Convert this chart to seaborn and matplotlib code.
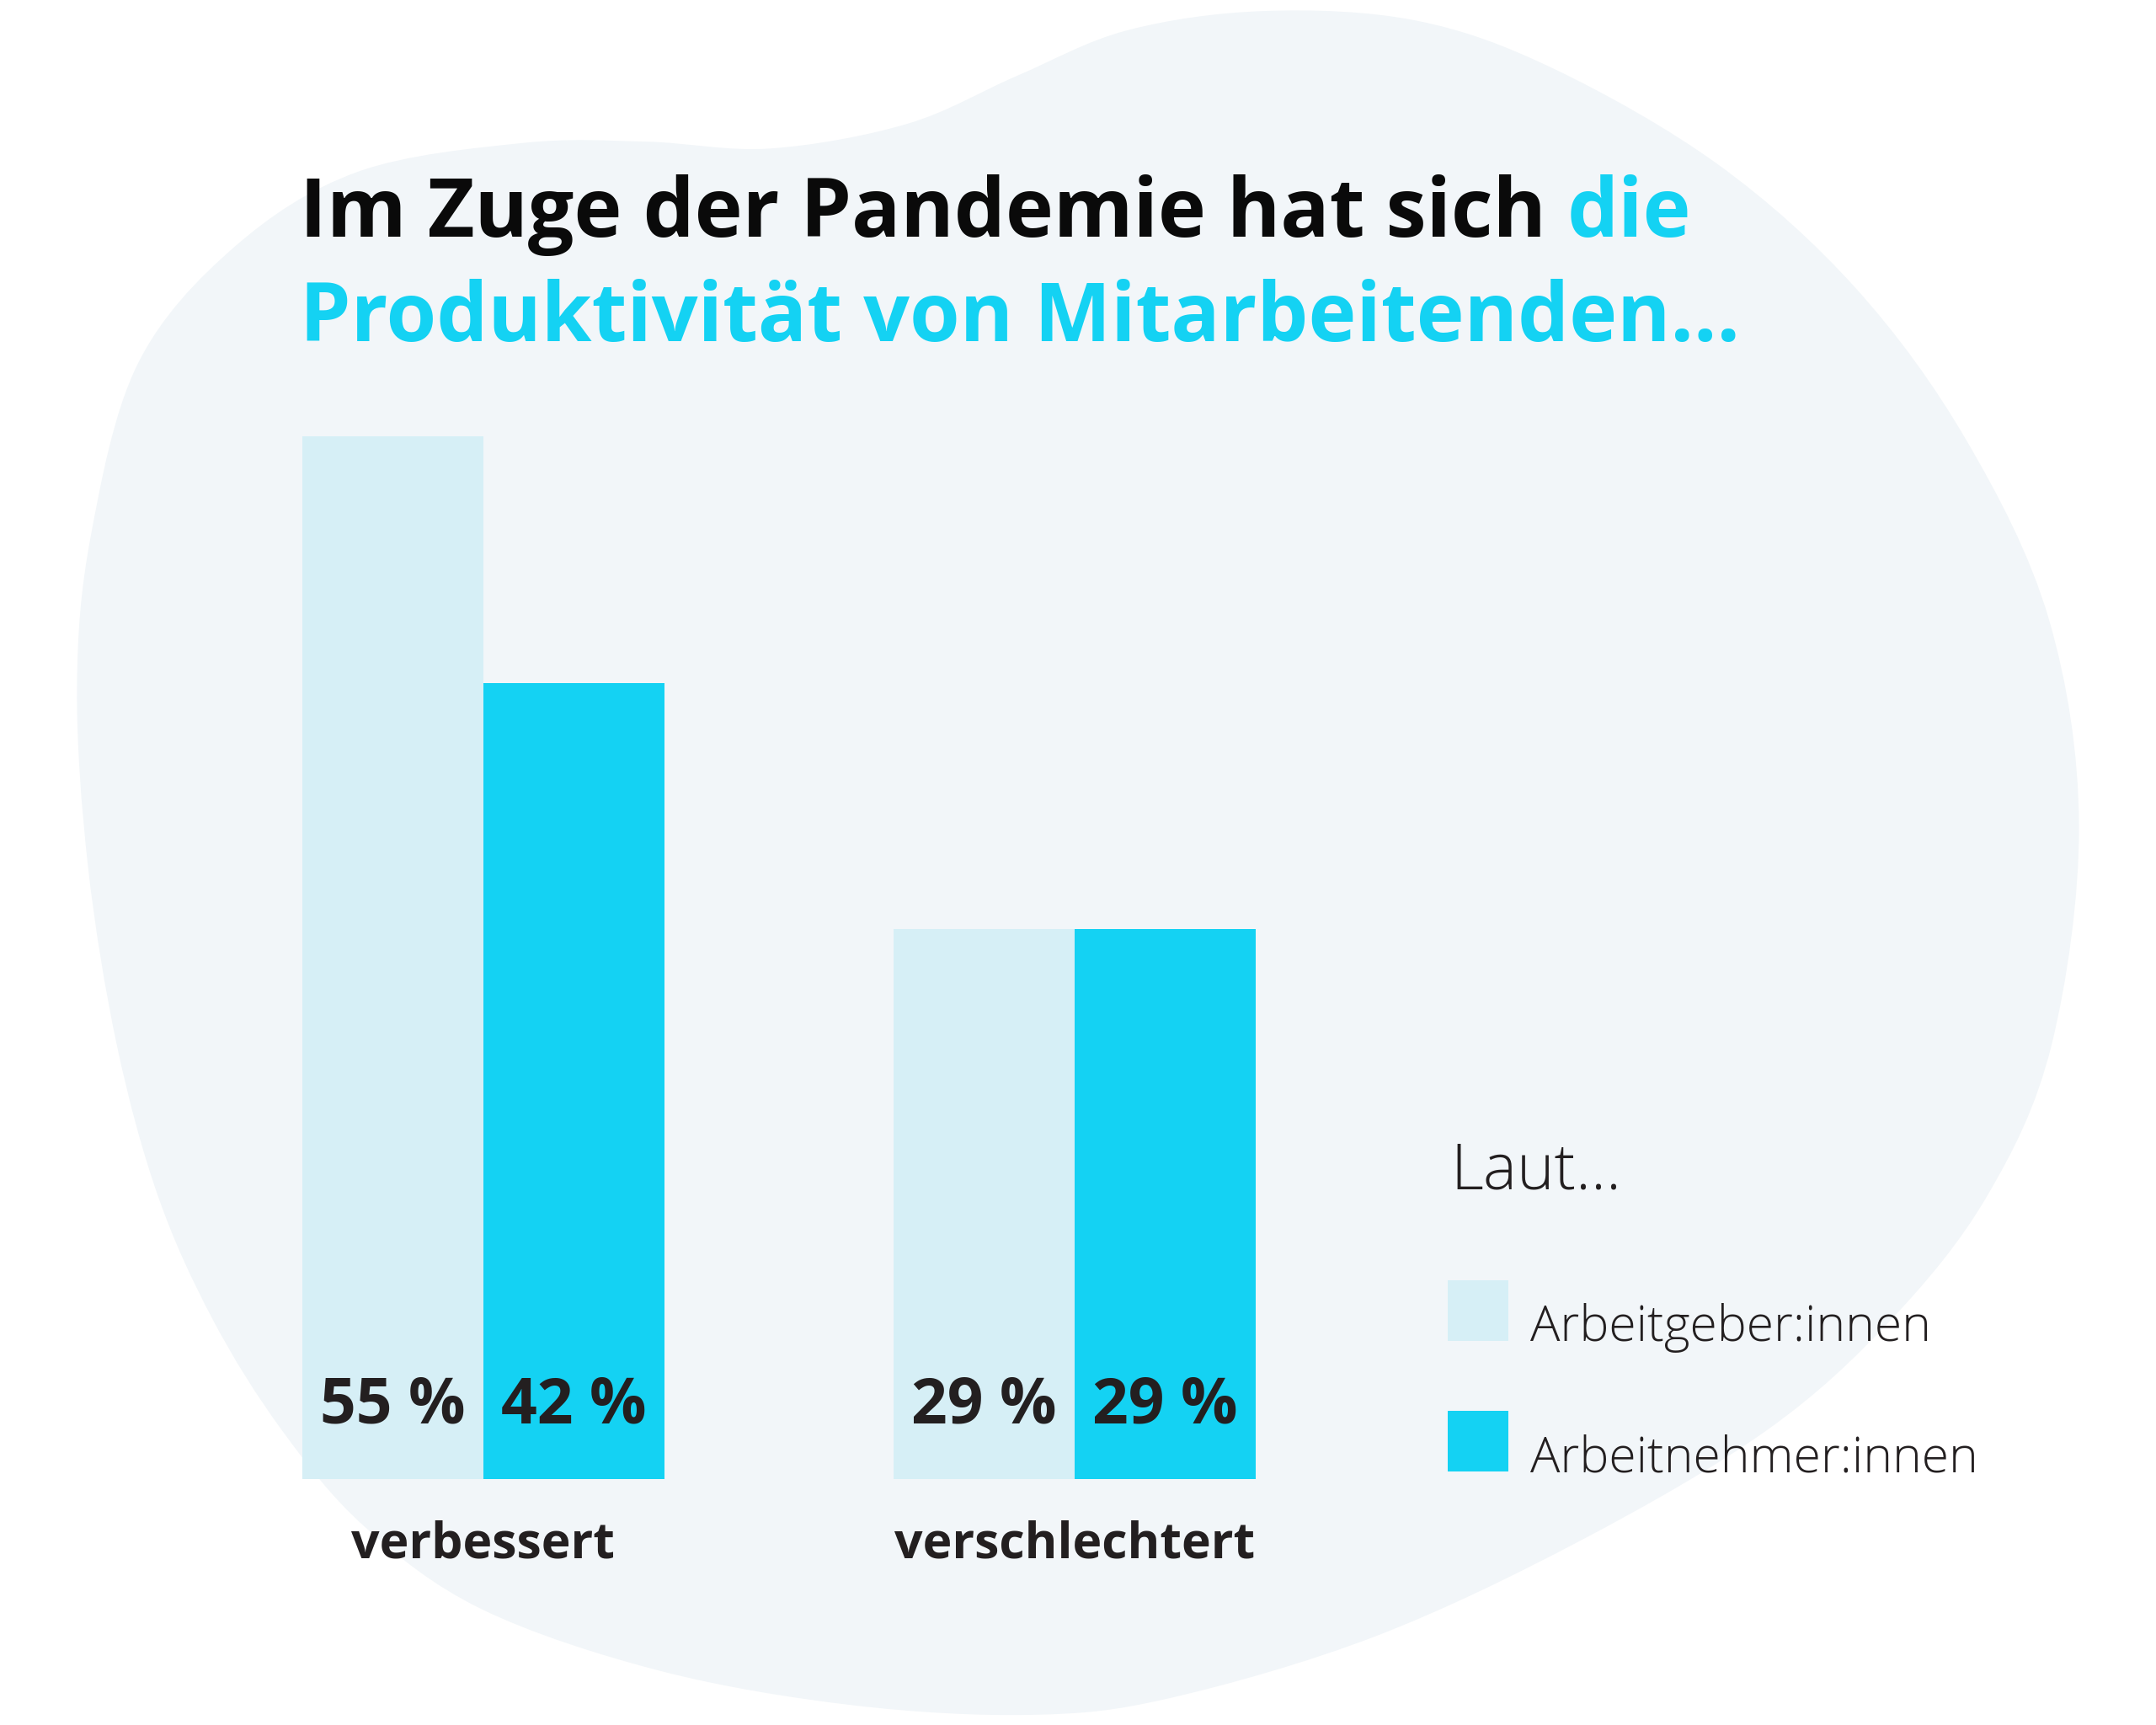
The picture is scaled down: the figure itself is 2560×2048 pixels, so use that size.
import numpy as np
import pandas as pd
import matplotlib
matplotlib.use("Agg")
import matplotlib.pyplot as plt
import seaborn as sns
from matplotlib.path import Path
from matplotlib.patches import PathPatch, Rectangle

# ---- data ----
categories = ["verbessert", "verschlechtert"]
series = ["Arbeitgeber:innen", "Arbeitnehmer:innen"]
arbeitgeber = [55, 29]
arbeitnehmer = [42, 29]
legend_title = "Laut..."
title_black = "Im Zuge der Pandemie hat sich "
title_cyan1 = "die"
title_cyan2 = "Produktivität von Mitarbeitenden..."

LIGHT = "#d6eff6"
DARK = "#14d2f3"
TEXT = "#231f20"
BLOB = "#f2f6f9"

sns.set_theme(style="white")
plt.rcParams["font.family"] = ["Open Sans", "DejaVu Sans"]

W, H = 2560, 2048
fig = plt.figure(figsize=(25.6, 20.48), dpi=100)
fig.patch.set_facecolor("white")

# ---- decorative background blob (points in 1568x1254 preview space) ----
blob_pts = np.array([
    (56, 500), (66, 390), (100, 265), (170, 180), (260, 125), (380, 104),
    (470, 103), (560, 108), (660, 90), (740, 55), (820, 22), (920, 8),
    (1030, 15), (1130, 50), (1250, 120), (1350, 210), (1430, 320),
    (1490, 450), (1512, 600), (1492, 760), (1445, 870), (1375, 960),
    (1285, 1040), (1150, 1120), (1000, 1190), (850, 1235), (750, 1247),
    (620, 1240), (480, 1215), (350, 1170), (265, 1110), (205, 1040),
    (155, 960), (115, 870), (85, 760), (64, 630),
], dtype=float)
s = W / 1568.0
P = np.column_stack([blob_pts[:, 0] * s / W, 1 - blob_pts[:, 1] * s / H])
n = len(P)
verts = [P[0]]
codes = [Path.MOVETO]
for i in range(n):
    p0, p1, p2, p3 = P[(i - 1) % n], P[i], P[(i + 1) % n], P[(i + 2) % n]
    c1 = p1 + (p2 - p0) / 6.0
    c2 = p2 - (p3 - p1) / 6.0
    verts += [c1, c2, p2]
    codes += [Path.CURVE4] * 3
fig.add_artist(PathPatch(Path(verts, codes), facecolor=BLOB, edgecolor="none",
                         transform=fig.transFigure, zorder=0))

# ---- bars ----
df = pd.DataFrame({
    "Kategorie": categories * 2,
    "Laut": [series[0]] * len(categories) + [series[1]] * len(categories),
    "Wert": arbeitgeber + arbeitnehmer,
})

ax_left, ax_right = 359 / W, 1491 / W
ax_bottom = 1 - 1756 / H
ax_height = (1756 - 518) / H
ax = fig.add_axes([ax_left, ax_bottom, ax_right - ax_left, ax_height])
ax.patch.set_alpha(0)
sns.barplot(data=df, x="Kategorie", y="Wert", hue="Laut", hue_order=series,
            order=categories, palette=[LIGHT, DARK], width=0.612, gap=0,
            saturation=1, linewidth=0, legend=False, ax=ax, zorder=2)
ax.set_xlim(-0.306, 1.306)
ax.set_ylim(0, 55)
for sp in ax.spines.values():
    sp.set_visible(False)
ax.set_yticks([])
ax.set_xlabel("")
ax.set_ylabel("")
ax.set_xticks(range(len(categories)))
ax.set_xticklabels(categories, fontsize=42.5, fontweight="bold", color=TEXT)
ax.tick_params(axis="x", length=0, pad=35)

for cont in ax.containers:
    for patch in cont:
        xc = patch.get_x() + patch.get_width() / 2
        v = patch.get_height()
        ax.annotate(f"{v:.0f} %", xy=(xc, 0), xytext=(0, 48),
                    textcoords="offset points", ha="center", va="baseline",
                    fontsize=54, fontweight="bold", color=TEXT, zorder=3)

# ---- title ----
TS = 69.5
t1 = fig.text(356 / W, 1 - 281 / H, title_black, fontsize=TS,
              fontweight="bold", color="#0a0a0a", ha="left", va="baseline")
fig.canvas.draw()
r = fig.canvas.get_renderer()
bb = t1.get_window_extent(r)
fig.text(bb.x1 / W, 1 - 281 / H, title_cyan1, fontsize=TS,
         fontweight="bold", color=DARK, ha="left", va="baseline")
fig.text(356 / W, 1 - 405 / H, title_cyan2, fontsize=TS,
         fontweight="bold", color=DARK, ha="left", va="baseline")

# ---- legend ----
fig.text(1722 / W, 1 - 1412 / H, legend_title, fontsize=54.5,
         fontweight="light", color=TEXT, ha="left", va="baseline")
leg_y = [1592, 1747]
for lab, col, yb in zip(series, [LIGHT, DARK], leg_y):
    fig.add_artist(Rectangle((1719 / W, 1 - yb / H), 72 / W, 72 / H,
                             transform=fig.transFigure, facecolor=col,
                             edgecolor="none", zorder=2))
    fig.text(1817 / W, 1 - yb / H, lab, fontsize=42.5, fontweight="light",
             color=TEXT, ha="left", va="baseline")

fig.savefig("out.png", dpi=100, facecolor="white")
